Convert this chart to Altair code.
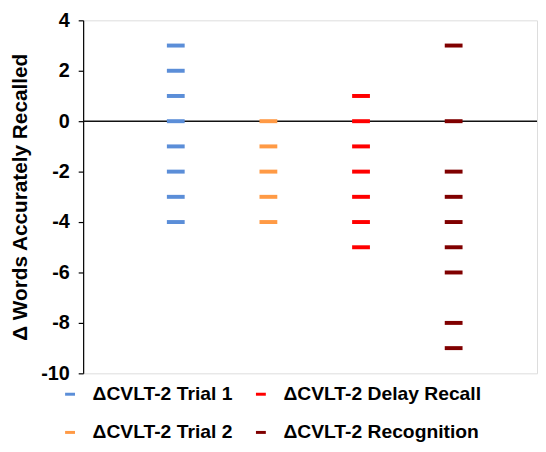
import altair as alt
import pandas as pd

series = ["ΔCVLT-2 Trial 1", "ΔCVLT-2 Trial 2", "ΔCVLT-2 Delay Recall", "ΔCVLT-2 Recognition"]
positions = [1, 2, 3, 4]
trial1 = [3, 2, 1, 0, -1, -2, -3, -4]
trial2 = [0, -1, -2, -3, -4]
delay = [1, 0, -1, -2, -3, -4, -5]
recog = [3, 0, -2, -3, -4, -5, -6, -8, -9]
colors = ["#5B8ED8", "#FF9A45", "#FF0000", "#800000"]
y_ticks = [-10, -8, -6, -4, -2, 0, 2, 4]

rows = []
for name, pos, vals in zip(series, positions, [trial1, trial2, delay, recog]):
    for v in vals:
        rows.append({"series": name, "pos": pos, "value": v})
df = pd.DataFrame(rows)

FONT = "Liberation Sans"

x_scale = alt.Scale(domain=[0, 4.9], nice=False, zero=False)
y_scale = alt.Scale(domain=[-10, 4], nice=False, zero=False)

y_axis = alt.Axis(values=y_ticks, grid=False, domainColor="#000000", domainWidth=1.2,
                  tickColor="#000000", tickSize=5, tickWidth=1.2,
                  labelExpr="toString(datum.value)",
                  labelFont=FONT, labelFontSize=20, labelFontWeight="bold", labelColor="#000000",
                  labelPadding=9,
                  titleFont=FONT, titleFontSize=21, titleFontWeight="bold", titleColor="#000000",
                  titlePadding=10)
y_title = "Δ Words Accurately Recalled"

zero = alt.Chart(pd.DataFrame({"z": [0]})).mark_rule(color="#111111", strokeWidth=1.6).encode(
    y=alt.Y("z:Q", scale=y_scale, title=y_title, axis=y_axis)
)

ticks = alt.Chart(df).mark_tick(orient="horizontal", size=18, thickness=4, opacity=1).encode(
    x=alt.X("pos:Q", scale=x_scale, axis=None),
    y=alt.Y("value:Q", scale=y_scale, title=y_title, axis=y_axis),
    color=alt.Color("series:N", scale=alt.Scale(domain=series, range=colors),
                    legend=alt.Legend(title=None, orient="none", legendX=-23, legendY=368,
                                      columns=2, columnPadding=18, rowPadding=18,
                                      symbolType="M-1,-0.3L1,-0.3L1,0.3L-1,0.3Z", symbolSize=100,
                                      symbolStrokeWidth=0, labelOffset=13,
                                      labelFont=FONT, labelFontSize=19.5, labelFontWeight="bold",
                                      labelColor="#000000", labelLimit=300)),
)

chart = alt.layer(zero, ticks).properties(
    width=459, height=357, padding={"left": 2, "top": 0, "right": 0, "bottom": 0}
).configure_view(strokeWidth=0).configure(background="white")

chart.save("out.html", embed_options={"renderer": "svg", "actions": False})
